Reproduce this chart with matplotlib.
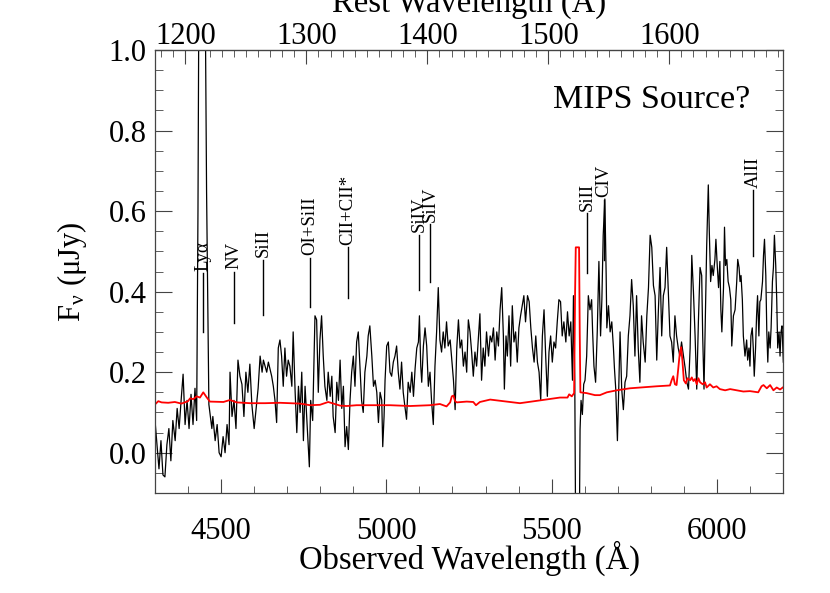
import matplotlib.pyplot as plt
from matplotlib.ticker import MultipleLocator

plt.rcParams['font.family'] = ['Liberation Serif', 'DejaVu Serif']
plt.rcParams['mathtext.fontset'] = 'stix'

# redshift factor (1+z) linking observed and rest wavelength
ZFAC = 3.66

# observed spectrum (Angstrom, microJy)
obs_wave = [
    4300, 4306, 4312, 4318, 4324, 4330, 4336, 4342, 4348, 4354, 4361, 4367, 4373, 4379, 4385, 4391,
    4397, 4403, 4409, 4415, 4421, 4426, 4430, 4435, 4448, 4456, 4463, 4466, 4472, 4475, 4482, 4488,
    4494, 4500, 4506, 4512, 4518, 4524, 4527, 4533, 4539, 4545, 4551, 4557, 4563, 4569, 4575, 4581,
    4587, 4593, 4600, 4606, 4612, 4618, 4624,
    4628, 4638, 4643, 4653, 4658, 4663, 4668, 4673, 4678, 4683, 4688, 4693, 4698, 4703, 4708, 4714,
    4718, 4724, 4729, 4734, 4739, 4744, 4749, 4754, 4759, 4767, 4771, 4777, 4784, 4789, 4794, 4799,
    4804, 4809, 4814, 4820, 4824, 4830, 4835, 4839, 4845, 4850, 4855, 4860, 4865, 4870, 4875, 4880,
    4885, 4890, 4895, 4900, 4905, 4910, 4915, 4920, 4925, 4930, 4935, 4941, 4945, 4950,
    4956, 4961, 4966, 4971, 4976, 4981, 4986, 4989, 4993, 4996, 5001, 5006, 5011, 5016, 5021, 5026,
    5031, 5036, 5041, 5046, 5051, 5056, 5061, 5066, 5072, 5077, 5082, 5087, 5092, 5097, 5100, 5104,
    5107, 5112, 5117, 5122, 5127, 5132, 5137, 5142, 5147, 5152, 5157, 5162, 5167, 5172, 5177, 5182,
    5187, 5193, 5198, 5203, 5208, 5213, 5218, 5223, 5228, 5233, 5238, 5243, 5248, 5253, 5258, 5263,
    5268, 5273, 5278, 5283,
    5288, 5293, 5298, 5303, 5309, 5314, 5319, 5324, 5329, 5334, 5339, 5344, 5349, 5354, 5357, 5362,
    5366, 5371, 5376, 5381, 5386, 5391, 5396, 5401, 5406, 5411, 5416, 5421, 5427, 5432, 5437, 5442,
    5447, 5452, 5457, 5462, 5467, 5472, 5477, 5482, 5487, 5492, 5497, 5502, 5507, 5512, 5517, 5522,
    5527, 5532, 5537, 5543, 5548, 5553, 5558, 5563, 5566, 5570, 5574, 5582, 5586, 5589, 5593, 5597,
    5601, 5606, 5611, 5616,
    5621, 5624, 5628, 5633, 5638, 5643, 5648, 5652, 5656, 5661, 5665, 5667, 5672, 5677, 5682, 5687,
    5690, 5694, 5699, 5703, 5707, 5712, 5717, 5722, 5727, 5732, 5737, 5742, 5747, 5752, 5757, 5762,
    5767, 5772, 5777, 5783, 5788, 5793, 5798, 5803, 5808, 5813, 5818, 5823, 5828, 5833, 5838, 5843,
    5848, 5853, 5858, 5863, 5868, 5873, 5878, 5883, 5888, 5893, 5899, 5904, 5909, 5914, 5919, 5924,
    5929, 5934, 5939, 5944, 5949,
    5954, 5957, 5961, 5965, 5969, 5974, 5977, 5981, 5985, 5989, 5994, 5997, 6001, 6005, 6009, 6012,
    6015, 6020, 6023, 6026, 6030, 6034, 6038, 6042, 6045, 6050, 6055, 6060, 6063, 6067, 6070, 6073,
    6077, 6080, 6085, 6090, 6093, 6097, 6100, 6103, 6107, 6110, 6113, 6117, 6120, 6123, 6127, 6130,
    6133, 6138, 6141, 6144, 6148, 6151, 6154, 6157, 6161, 6164, 6168, 6171, 6174, 6178, 6181, 6184,
    6188, 6191, 6194, 6197, 6201,
]
flux = [
    0.08, 0.02, -0.04, 0.03, -0.055, -0.06, 0.02, 0.06, -0.02, 0.08, 0.03, 0.11, 0.06, 0.13, 0.195, 0.07,
    0.13, 0.06, 0.145, 0.07, 0.16, 0.08, 0.60, 1.60, 1.60, 0.65, 0.12, 0.10, 0.06, 0.09, 0.03, 0.07,
    0.00, -0.01, 0.04, 0.00, 0.07, 0.02, 0.20, 0.09, 0.13, 0.06, 0.23, 0.19, 0.17, 0.09, 0.20, 0.15,
    0.22, 0.12, 0.06, 0.11, 0.16, 0.24, 0.20,
    0.23, 0.20, 0.225, 0.19, 0.165, 0.13, 0.075, 0.26, 0.28, 0.24, 0.165, 0.26, 0.19, 0.23, 0.215, 0.165,
    0.30, 0.15, 0.05, 0.165, 0.10, 0.20, 0.03, 0.165, 0.09, -0.035, 0.13, 0.08, 0.34, 0.33, 0.15, 0.28,
    0.34, 0.24, 0.165, 0.13, 0.20, 0.14, 0.19, 0.09, 0.05, 0.175, 0.13, 0.23, 0.11, 0.165, 0.015, 0.065,
    0.008, 0.13, 0.20, 0.24, 0.165, 0.275, 0.30, 0.215, 0.13, 0.10, 0.20, 0.24, 0.29, 0.315,
    0.24, 0.165, 0.18, 0.15, 0.075, 0.15, 0.13, 0.015, 0.09, 0.18, 0.265, 0.275, 0.20, 0.19, 0.225, 0.24,
    0.265, 0.20, 0.158, 0.225, 0.15, 0.115, 0.083, 0.175, 0.15, 0.20, 0.14, 0.21, 0.26, 0.275, 0.34, 0.215,
    0.175, 0.265, 0.31, 0.265, 0.165, 0.20, 0.125, 0.07, 0.215, 0.30, 0.41, 0.28, 0.25, 0.30, 0.26, 0.325,
    0.265, 0.28, 0.23, 0.18, 0.107, 0.26, 0.33, 0.26, 0.28, 0.215, 0.25, 0.20, 0.33, 0.30, 0.25, 0.19,
    0.25, 0.215, 0.28, 0.345,
    0.18, 0.26, 0.215, 0.30, 0.24, 0.29, 0.275, 0.31, 0.23, 0.30, 0.265, 0.355, 0.41, 0.29, 0.158, 0.29,
    0.24, 0.34, 0.215, 0.365, 0.275, 0.30, 0.225, 0.31, 0.34, 0.365, 0.39, 0.325, 0.39, 0.375, 0.31, 0.26,
    0.225, 0.29, 0.225, 0.20, 0.13, 0.29, 0.355, 0.24, 0.14, 0.25, 0.29, 0.225, 0.275, 0.26, 0.325, 0.38,
    0.375, 0.29, 0.325, 0.275, 0.35, 0.29, 0.325, 0.18, 0.39, 0.18, -0.40, -0.40, 0.058, 0.13, 0.095, 0.17,
    0.18, 0.24, 0.39, 0.355,
    0.38, 0.30, 0.215, 0.175, 0.30, 0.475, 0.29, 0.38, 0.54, 0.63, 0.44, 0.31, 0.365, 0.30, 0.325, 0.26,
    0.21, 0.158, 0.03, 0.158, 0.30, 0.158, 0.107, 0.175, 0.19, 0.29, 0.34, 0.43, 0.365, 0.24, 0.39, 0.26,
    0.175, 0.34, 0.275, 0.225, 0.34, 0.41, 0.54, 0.51, 0.415, 0.39, 0.23, 0.355, 0.46, 0.29, 0.39, 0.41,
    0.51, 0.40, 0.29, 0.275, 0.225, 0.34, 0.29, 0.26, 0.24, 0.275, 0.24, 0.21, 0.175, 0.158, 0.26, 0.49,
    0.40, 0.29, 0.158, 0.325, 0.46,
    0.44, 0.29, 0.158, 0.34, 0.51, 0.665, 0.55, 0.425, 0.465, 0.44, 0.48, 0.53, 0.465, 0.41, 0.475, 0.355,
    0.30, 0.41, 0.56, 0.465, 0.48, 0.425, 0.41, 0.38, 0.265, 0.34, 0.355, 0.425, 0.48, 0.46, 0.425, 0.44,
    0.38, 0.29, 0.24, 0.28, 0.23, 0.26, 0.215, 0.29, 0.31, 0.26, 0.19, 0.26, 0.34, 0.39, 0.29, 0.375,
    0.38, 0.425, 0.49, 0.53, 0.44, 0.30, 0.225, 0.30, 0.26, 0.31, 0.425, 0.46, 0.54, 0.465, 0.38, 0.26,
    0.30, 0.24, 0.30, 0.315, 0.225,
]

# noise spectrum (red)
noise_wave = [
    4300, 4310, 4320, 4340, 4360, 4380, 4400, 4406, 4416, 4426, 4436, 4446, 4456, 4466, 4507, 4527,
    4547, 4587, 4633, 4678, 4739, 4769, 4799, 4824, 4860, 4880, 4910, 4950, 5011, 5072, 5132, 5162,
    5182, 5193, 5198, 5203, 5208, 5213, 5243, 5263, 5271, 5283, 5314, 5364, 5404, 5465, 5525, 5548,
    5553, 5561, 5568, 5571, 5573, 5583, 5585, 5587, 5606, 5631, 5646, 5667, 5697, 5737, 5818, 5858,
    5863, 5868, 5873, 5878, 5883, 5888, 5892, 5896, 5900, 5906, 5911, 5919, 5924, 5929, 5934, 5939,
    5944, 5949, 5957, 5964, 5969, 5979, 5989, 5999, 6009, 6025, 6040, 6060, 6080, 6100, 6125, 6135,
    6141, 6151, 6161, 6171, 6181, 6191, 6201,
]
noise_flux = [
    0.120, 0.128, 0.125, 0.124, 0.126, 0.122, 0.128, 0.135, 0.133, 0.140, 0.137, 0.150, 0.138, 0.127, 0.126, 0.131,
    0.125, 0.123, 0.123, 0.124, 0.122, 0.118, 0.119, 0.126, 0.117, 0.116, 0.118, 0.118, 0.118, 0.116, 0.118, 0.121,
    0.115, 0.125, 0.140, 0.142, 0.128, 0.125, 0.127, 0.126, 0.118, 0.126, 0.132, 0.127, 0.123, 0.130, 0.137, 0.137,
    0.145, 0.140, 0.148, 0.400, 0.510, 0.510, 0.300, 0.150, 0.148, 0.143, 0.143, 0.150, 0.155, 0.160, 0.165, 0.167,
    0.180, 0.190, 0.170, 0.168, 0.208, 0.250, 0.262, 0.225, 0.180, 0.172, 0.185, 0.180, 0.187, 0.178, 0.183, 0.170,
    0.185, 0.175, 0.170, 0.175, 0.162, 0.170, 0.162, 0.165, 0.158, 0.155, 0.158, 0.155, 0.152, 0.153, 0.150, 0.165,
    0.168, 0.160, 0.168, 0.155, 0.162, 0.157, 0.163,
]

# emission/absorption line markers
line_names = ['Lyα', 'NV', 'SiII', 'OI+SiII', 'CII+CII*', 'SiIV', 'SiIV', 'SiII', 'CIV', 'AlII']
line_waves = [4445, 4539, 4627, 4769, 4884, 5099, 5132, 5607, 5659, 6109]
line_lo = [0.300, 0.322, 0.342, 0.362, 0.384, 0.404, 0.424, 0.446, 0.479, 0.488]
line_hi = [0.446, 0.449, 0.479, 0.484, 0.511, 0.541, 0.568, 0.595, 0.628, 0.652]

fig = plt.figure(figsize=(8.3, 5.93), dpi=100)
ax = fig.add_axes([0.18675, 0.16863, 0.75663, 0.74705])

ax.plot(obs_wave, flux, color='black', lw=0.9)
ax.plot(noise_wave, noise_flux, color='red', lw=1.3)

for name, wl, lo, hi in zip(line_names, line_waves, line_lo, line_hi):
    ax.plot([wl, wl], [lo, hi], color='black', lw=1.0)
    ax.text(wl, hi + 0.006, name, rotation=90, ha='center', va='bottom', fontsize=13.5)

ax.text(5504, 0.876, 'MIPS Source?', fontsize=24.5, va='center')

ax.set_xlim(4300, 6200)
ax.set_ylim(-0.1, 1.0)
ax.xaxis.set_major_locator(MultipleLocator(500))
ax.xaxis.set_minor_locator(MultipleLocator(100))
ax.yaxis.set_major_locator(MultipleLocator(0.2))
ax.yaxis.set_minor_locator(MultipleLocator(0.05))
ax.yaxis.set_major_formatter(plt.FormatStrFormatter('%.1f'))
ax.tick_params(which='both', direction='in', top=False, right=True, color='#444444', labelsize=22)
ax.tick_params(axis='x', which='major', length=10, pad=17.5)
ax.tick_params(axis='x', which='minor', length=5)
ax.tick_params(axis='y', which='major', length=12, pad=6)
ax.tick_params(axis='y', which='minor', length=6)
for sp in ax.spines.values():
    sp.set_color('#444444')
    sp.set_linewidth(0.9)

ax.set_xlabel('Observed Wavelength (Å)', fontsize=23.5, labelpad=-4)
ax.set_ylabel('F$_\\mathregular{ν}$ (μJy)', fontsize=22, labelpad=14)

top = ax.secondary_xaxis('top', functions=(lambda w: w / ZFAC, lambda w: w * ZFAC))
top.xaxis.set_major_locator(MultipleLocator(100))
top.xaxis.set_minor_locator(MultipleLocator(10))
top.tick_params(which='both', direction='in', color='#444444', labelsize=22)
top.tick_params(which='major', length=10, pad=-0.5)
top.tick_params(which='minor', length=5)
top.set_xlabel('Rest Wavelength (Å)', fontsize=23.5, labelpad=7)

fig.savefig('out.png', dpi=100)
